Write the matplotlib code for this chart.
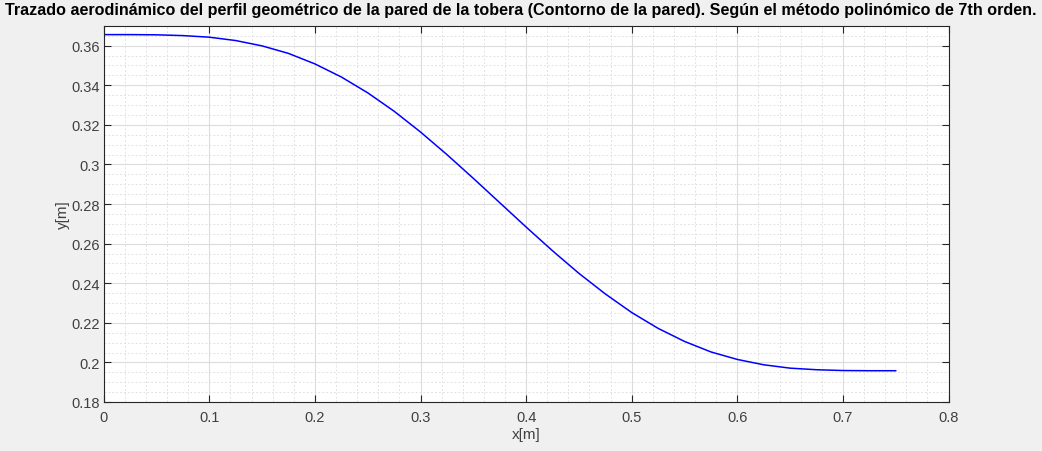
import matplotlib
matplotlib.use('Agg')
import matplotlib.pyplot as plt
from matplotlib.ticker import MultipleLocator

# contorno de la pared
x_vals = [0.000, 0.025, 0.050, 0.075, 0.100, 0.125, 0.150, 0.175, 0.200, 0.225,
          0.250, 0.275, 0.300, 0.325, 0.350, 0.375, 0.400, 0.425, 0.450, 0.475,
          0.500, 0.525, 0.550, 0.575, 0.600, 0.625, 0.650, 0.675, 0.700, 0.725, 0.750]
y_vals = [0.3656, 0.3656, 0.3655, 0.3651, 0.3643, 0.3626, 0.3599, 0.3561, 0.3508, 0.3442,
          0.3362, 0.3269, 0.3164, 0.3050, 0.2930, 0.2807, 0.2684, 0.2564, 0.2450, 0.2346,
          0.2252, 0.2172, 0.2106, 0.2053, 0.2015, 0.1988, 0.1971, 0.1963, 0.1959, 0.1958, 0.1958]

x_ticks = [0, 0.1, 0.2, 0.3, 0.4, 0.5, 0.6, 0.7, 0.8]
x_ticklabels = ['0', '0.1', '0.2', '0.3', '0.4', '0.5', '0.6', '0.7', '0.8']
y_ticks = [0.18, 0.2, 0.22, 0.24, 0.26, 0.28, 0.3, 0.32, 0.34, 0.36]
y_ticklabels = ['0.18', '0.2', '0.22', '0.24', '0.26', '0.28', '0.3', '0.32', '0.34', '0.36']

title = ('Trazado aerodinámico del perfil geométrico de la pared de la tobera '
         '(Contorno de la pared). Según el método polinómico de 7th orden.')

plt.rcParams['font.family'] = ['Liberation Sans', 'DejaVu Sans']

fig = plt.figure(figsize=(10.42, 4.52), dpi=100, facecolor='#f0f0f0')
ax = fig.add_axes([103.7 / 1042, 1 - 403 / 452, (948.5 - 103.7) / 1042, (403 - 26.9) / 452])
ax.set_facecolor('white')

ax.plot(x_vals, y_vals, color='#0000ff', linewidth=1.1)

ax.set_xlim(0, 0.8)
ax.set_ylim(0.18, 0.37)
ax.set_xticks(x_ticks)
ax.set_xticklabels(x_ticklabels)
ax.set_yticks(y_ticks)
ax.set_yticklabels(y_ticklabels)
ax.xaxis.set_minor_locator(MultipleLocator(0.02))
ax.yaxis.set_minor_locator(MultipleLocator(0.005))

ax.grid(which='major', color='#dcdcdc', linewidth=0.8, linestyle='-')
ax.grid(which='minor', color='#e2e2e2', linewidth=0.7, linestyle=(0, (2, 2)))
ax.set_axisbelow(True)

ax.tick_params(which='major', direction='in', length=5, width=0.8, color='#262626',
               labelsize=10.5, labelcolor='#404040', top=True, right=True, pad=3)
ax.tick_params(axis='x', which='major', pad=6)
ax.tick_params(which='minor', length=0, top=True, right=True)
for s in ax.spines.values():
    s.set_color('#262626')
    s.set_linewidth(0.8)

ax.set_xlabel('x[m]', fontsize=11, color='#404040', labelpad=2)
ax.set_ylabel('y[m]', fontsize=11, color='#404040', labelpad=1)
fig.text(0.5, 1 - 10 / 452, title, ha='center', va='center', fontsize=11.6,
         fontweight='bold', color='black')

fig.savefig('out.png', dpi=100, facecolor=fig.get_facecolor())
